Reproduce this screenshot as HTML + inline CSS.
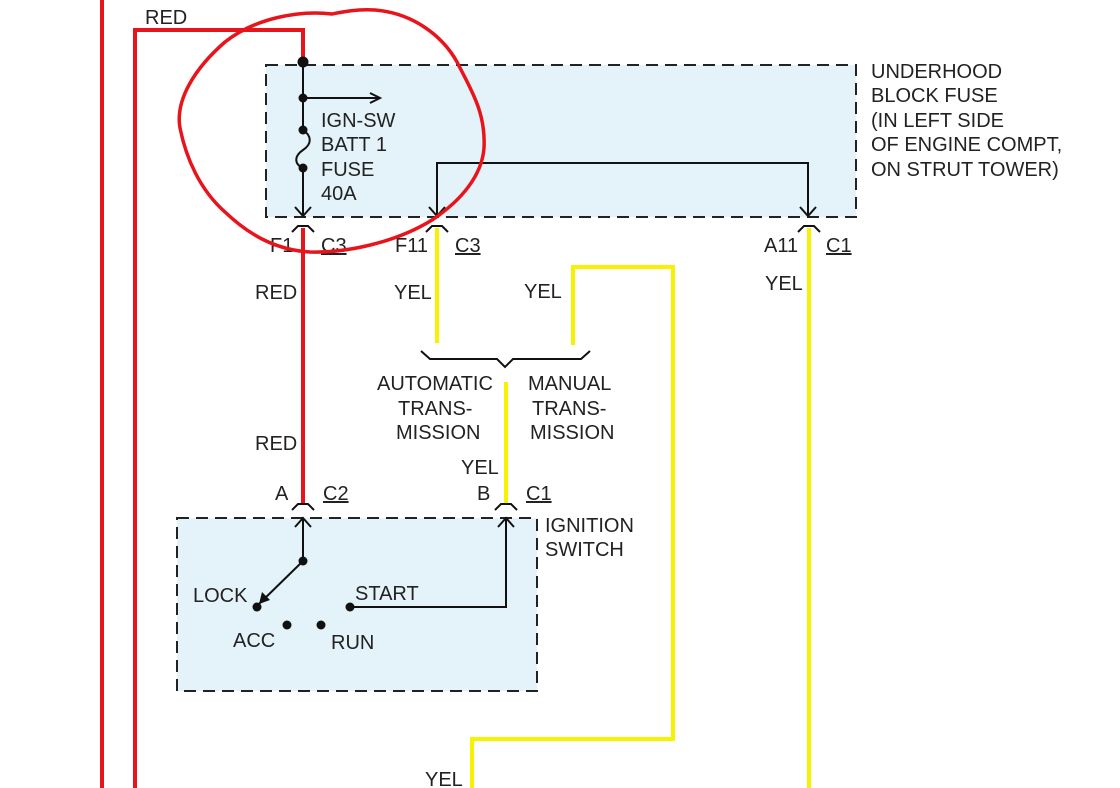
<!DOCTYPE html>
<html><head><meta charset="utf-8"><style>
html,body{margin:0;padding:0;background:#fff;}
svg{display:block;}
text{font-family:"Liberation Sans",sans-serif;font-size:20px;fill:#222;}
</style></head><body>
<svg width="1120" height="788" viewBox="0 0 1120 788" xmlns="http://www.w3.org/2000/svg">
<rect x="266" y="65" width="590" height="152" fill="#e4f2f9" stroke="#222" stroke-width="2" stroke-dasharray="12,7"/>
<rect x="177" y="518" width="360" height="173" fill="#e4f2f9" stroke="#222" stroke-width="2" stroke-dasharray="12,7"/>
<g stroke="#e8141b" stroke-width="4" fill="none">
<line x1="102" y1="0" x2="102" y2="788"/>
<polyline points="135,788 135,30 303,30 303,62"/>
<line x1="303" y1="228" x2="303" y2="503"/>
</g>
<g stroke="#f7f200" stroke-width="4" fill="none">
<line x1="437" y1="228" x2="437" y2="343"/>
<polyline points="573,345 573,267 673,267 673,739 472,739 472,788"/>
<line x1="809" y1="228" x2="809" y2="788"/>
<line x1="506" y1="382" x2="506" y2="503"/>
</g>
<g stroke="#111" stroke-width="2" fill="none">
<line x1="303" y1="62" x2="303" y2="130"/>
<path d="M303,130 C312,136 312,144 303,150 C294,156 294,164 303,168"/>
<line x1="303" y1="168" x2="303" y2="215"/>
<line x1="303" y1="98" x2="378" y2="98"/>
<polyline points="370,93 380,98 370,103"/>
<polyline points="295,207 303,216 311,207"/>
<polyline points="437,215 437,163 808,163 808,215"/>
<polyline points="429,207 437,216 445,207"/>
<polyline points="800,207 808,216 816,207"/>
<polyline points="292,232 298,226 308,226 314,232"/>
<polyline points="426,232 432,226 442,226 448,232"/>
<polyline points="798,232 804,226 814,226 820,232"/>
<polyline points="292,510 298,504 308,504 314,510"/>
<polyline points="495,510 501,504 511,504 517,510"/>
<polyline points="421,351 430,359 497,359 505,367 513,359 581,359 590,351"/>
<polyline points="295,527 303,518 311,527"/>
<line x1="303" y1="518" x2="303" y2="561"/>
<line x1="303" y1="561" x2="259" y2="604"/>
<polyline points="350,607 506,607 506,518"/>
<polyline points="498,527 506,518 514,527"/>
</g>
<path d="M259,604 L262,592 L270,600 Z" fill="#111"/>
<g fill="#111">
<circle cx="303" cy="62" r="5.5"/>
<circle cx="303" cy="98" r="4.5"/>
<circle cx="303" cy="130" r="4.5"/>
<circle cx="303" cy="168" r="4.5"/>
<circle cx="303" cy="561" r="4.5"/>
<circle cx="257" cy="607" r="4.5"/>
<circle cx="287" cy="625" r="4.5"/>
<circle cx="321" cy="625" r="4.5"/>
<circle cx="350" cy="607" r="4.5"/>
</g>
<text x="145" y="24">RED</text>
<text x="321" y="127">IGN-SW</text>
<text x="321" y="151">BATT 1</text>
<text x="321" y="176">FUSE</text>
<text x="321" y="200">40A</text>
<text x="871" y="78">UNDERHOOD</text>
<text x="871" y="102">BLOCK FUSE</text>
<text x="871" y="127">(IN LEFT SIDE</text>
<text x="871" y="151">OF ENGINE COMPT,</text>
<text x="871" y="176">ON STRUT TOWER)</text>
<text x="270" y="252">F1</text>
<text x="321" y="252" text-decoration="underline">C3</text>
<text x="395" y="252">F11</text>
<text x="455" y="252" text-decoration="underline">C3</text>
<text x="764" y="252">A11</text>
<text x="826" y="252" text-decoration="underline">C1</text>
<text x="255" y="299">RED</text>
<text x="394" y="299">YEL</text>
<text x="524" y="298">YEL</text>
<text x="765" y="290">YEL</text>
<text x="377" y="390">AUTOMATIC</text>
<text x="398" y="415">TRANS-</text>
<text x="396" y="439">MISSION</text>
<text x="528" y="390">MANUAL</text>
<text x="532" y="415">TRANS-</text>
<text x="530" y="439">MISSION</text>
<text x="255" y="450">RED</text>
<text x="461" y="474">YEL</text>
<text x="275" y="500">A</text>
<text x="323" y="500" text-decoration="underline">C2</text>
<text x="477" y="500">B</text>
<text x="526" y="500" text-decoration="underline">C1</text>
<text x="545" y="532">IGNITION</text>
<text x="545" y="556">SWITCH</text>
<text x="193" y="602">LOCK</text>
<text x="355" y="600">START</text>
<text x="233" y="647">ACC</text>
<text x="331" y="649">RUN</text>
<text x="425" y="786">YEL</text>
<path d="M332,14 C300,10 255,18 225,42 C195,68 175,100 180,128 C186,158 200,190 225,212 C248,234 275,250 310,252 C345,253 395,243 432,220 C462,200 482,175 484,148 C486,112 470,88 457,62 C442,35 412,13 375,10 C355,9 342,12 332,14 Z" fill="none" stroke="#e8141b" stroke-width="3.5"/>
</svg>
</body></html>
